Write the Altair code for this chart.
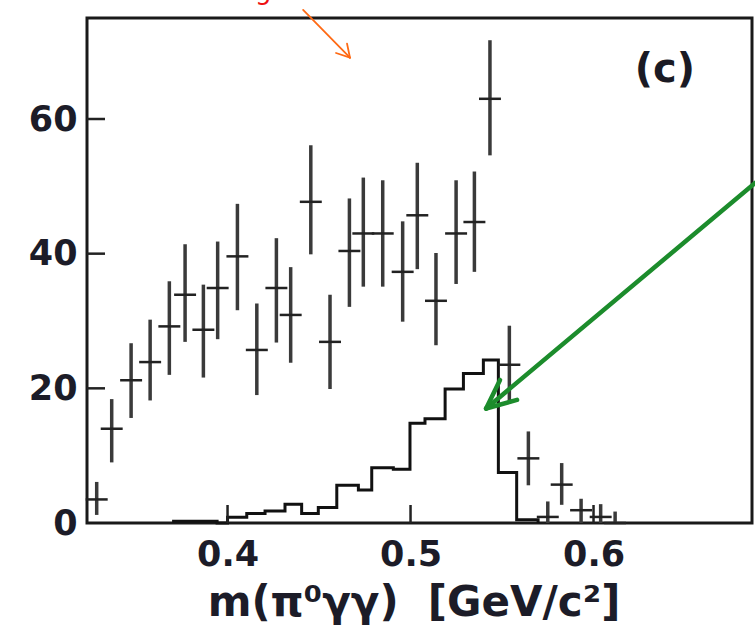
import altair as alt
import pandas as pd

# ---- data ----
pt_x = [0.3285, 0.3367, 0.3473, 0.3577, 0.3682, 0.3768, 0.3868, 0.3946, 0.4054, 0.4160,
        0.4267, 0.4345, 0.4455, 0.4560, 0.4666, 0.4742, 0.4848, 0.4957, 0.5037, 0.5139,
        0.5249, 0.5349, 0.5434, 0.5540, 0.5644, 0.5750, 0.5826, 0.5932, 0.6039, 0.6118]
pt_y = [3.5, 14.0, 21.2, 23.9, 29.2, 33.9, 28.7, 34.9, 39.6, 25.7,
        34.9, 30.9, 47.7, 26.9, 40.4, 43.0, 43.0, 37.3, 45.7, 33.0,
        43.0, 44.7, 63.0, 23.5, 9.6, 0.9, 5.7, 1.9, 0.9, 0.0]
pt_lo = [1.2, 9.0, 15.6, 18.2, 22.0, 26.9, 21.6, 27.3, 31.6, 19.0,
         26.8, 23.8, 39.9, 19.9, 32.1, 35.1, 35.1, 29.9, 37.7, 26.4,
         35.5, 37.3, 54.6, 17.7, 5.6, 0.0, 2.7, 0.0, 0.0, 0.0]
pt_hi = [6.1, 18.4, 26.7, 30.2, 35.9, 41.4, 35.4, 41.8, 47.4, 32.6,
         42.3, 38.0, 56.1, 33.9, 48.2, 51.3, 50.9, 44.8, 53.5, 40.1,
         50.9, 52.2, 71.7, 29.3, 13.6, 3.2, 8.9, 3.6, 2.8, 1.7]

hist_edges = [0.3697, 0.3943, 0.4000, 0.4105, 0.4205, 0.4314, 0.4405, 0.4496, 0.4597, 0.4715,
              0.4788, 0.4906, 0.4997, 0.5079, 0.5189, 0.5289, 0.5398, 0.5480, 0.5580, 0.5697]
hist_vals = [0.25, 0.0, 0.85, 1.4, 1.8, 2.8, 1.4, 2.3, 5.6, 4.9,
             8.2, 8.0, 14.8, 15.5, 19.9, 22.2, 24.2, 7.5, 0.5, 0.0]

xtick_vals = [0.4, 0.5, 0.6]
ytick_vals = [20, 40, 60]
ylabel_vals = [0, 20, 40, 60]

# annotation arrows (data coordinates): start -> end
arr_x1 = [0.6883, 0.5489, 0.5582, 0.4413, 0.4653, 0.4593]
arr_y1 = [50.5, 21.25, 18.28, 76.2, 71.2, 69.8]
arr_x2 = [0.5413, 0.5413, 0.5413, 0.4669, 0.4669, 0.4669]
arr_y2 = [17.0, 17.0, 17.0, 69.1, 69.1, 69.1]
arr_kind = ["green", "green", "green", "orange", "orange", "orange"]

panel_label = "(c)"
panel_x = [0.639]
panel_y = [67.3]

# cut-off red annotation text at the very top
red_text = ["g"]
red_x = [0.4195]
red_y = [77.8]

W, H = 665, 505
FONT = "DejaVu Sans"

xs = alt.Scale(domain=[0.3232, 0.6866], nice=False, zero=False)
ys = alt.Scale(domain=[0, 75], nice=False, zero=False)

pts = pd.DataFrame({"x": pt_x, "y": pt_y, "lo": pt_lo, "hi": pt_hi})
hist = pd.DataFrame({"x": hist_edges, "y": hist_vals})
arr = pd.DataFrame({"x": arr_x1, "y": arr_y1, "x2": arr_x2, "y2": arr_y2, "k": arr_kind})

X_TITLE = "m(π⁰γγ)\u00a0\u00a0[GeV/c²]"
x_axis = alt.Axis(values=xtick_vals, format=".1f", ticks=False, domain=False, grid=False,
                  labelFont=FONT, labelFontSize=35, labelFontWeight="bold", labelColor="#1c1c28",
                  labelPadding=14,
                  title=X_TITLE, titleFont=FONT, titleFontSize=42,
                  titleFontWeight="bold", titleColor="#1c1c28",
                  titleBaseline="alphabetic", titleY=92, titleX=W / 2 - 6)
y_axis = alt.Axis(values=ylabel_vals, ticks=False, domain=False, grid=False,
                  labelFont=FONT, labelFontSize=35, labelFontWeight="bold", labelColor="#1c1c28",
                  labelPadding=10, title="")


def X(f):
    return alt.X(f, scale=xs, axis=x_axis, title=X_TITLE)


def Y(f):
    return alt.Y(f, scale=ys, axis=y_axis, title="")


err_v = alt.Chart(pts).mark_rule(strokeWidth=3.5, color="#3a3a3a").encode(
    x=X("x:Q"), y=Y("lo:Q"), y2="hi:Q",
)
err_h = alt.Chart(pts).transform_calculate(
    xl="datum.x - 0.006", xr="datum.x + 0.006"
).mark_rule(strokeWidth=2.5, color="#222222").encode(
    x=X("xl:Q"), x2="xr:Q", y=Y("y:Q"),
)
hline = alt.Chart(hist).mark_line(interpolate="step-after", strokeWidth=3, color="#111111").encode(
    x=X("x:Q"), y=Y("y:Q"),
)
xticks = alt.Chart(pd.DataFrame({"x": xtick_vals})).mark_rule(strokeWidth=2.5, color="#222222").encode(
    x=X("x:Q"), y=alt.value(H), y2=alt.value(H - 18),
)
yticks = alt.Chart(pd.DataFrame({"y": ytick_vals})).mark_rule(strokeWidth=2.5, color="#222222").encode(
    y=Y("y:Q"), x=alt.value(0), x2=alt.value(18),
)
arrows = alt.Chart(arr).mark_rule(clip=False, strokeCap="round").encode(
    x=X("x:Q"), y=Y("y:Q"), x2="x2:Q", y2="y2:Q",
    color=alt.Color("k:N", scale=alt.Scale(domain=["green", "orange"], range=["#1c8c2c", "#ff6a14"]),
                    legend=None),
    strokeWidth=alt.StrokeWidth("k:N", scale=alt.Scale(domain=["green", "orange"], range=[4.5, 1.8]),
                                legend=None),
)
label = alt.Chart(pd.DataFrame({"x": panel_x, "y": panel_y, "t": [panel_label]})).mark_text(
    font=FONT, fontSize=40, fontWeight="bold", color="#1a1a24", align="center", baseline="middle"
).encode(
    x=X("x:Q"), y=Y("y:Q"), text="t:N",
)
red = alt.Chart(pd.DataFrame({"x": red_x, "y": red_y, "t": red_text})).mark_text(
    font=FONT, fontSize=26, color="#ee1111", align="center", baseline="alphabetic", clip=False
).encode(
    x=X("x:Q"), y=Y("y:Q"), text="t:N",
)

chart = alt.layer(hline, err_v, err_h, xticks, yticks, label, red, arrows).properties(
    width=W, height=H,
    autosize=alt.AutoSizeParams(type="none"),
    padding={"left": 87, "top": 18, "right": 3, "bottom": 102},
    background="white",
).configure_view(stroke="#1a1a1a", strokeWidth=3)

chart.save("out.html", embed_options={"renderer": "svg", "actions": False})
